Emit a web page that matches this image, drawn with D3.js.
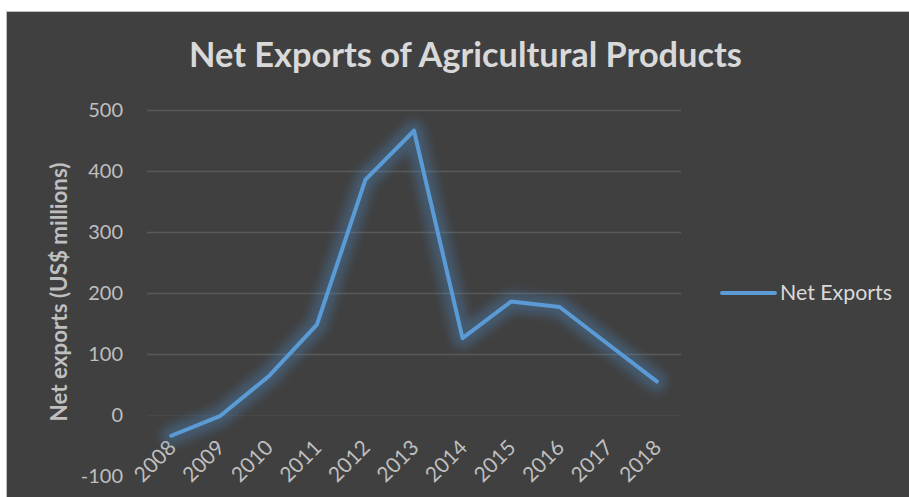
<!DOCTYPE html>
<html>
<head>
<meta charset="utf-8">
<script src="https://cdn.jsdelivr.net/npm/d3@7"></script>
<style>
  html, body { margin: 0; padding: 0; background: #fff; }
  svg text { font-family: Lato, "Open Sans", sans-serif; }
</style>
</head>
<body>
<div id="chart"></div>
<script>
// data
const years = ['2008','2009','2010','2011','2012','2013','2014','2015','2016','2017','2018'];
const netExports = [-34, -2, 63, 148, 386, 466, 126, 186, 177, 116, 55];
const yTicks = [-100, 0, 100, 200, 300, 400, 500];
const gridTicks = [100, 200, 300, 400, 500];
const seriesName = 'Net Exports';

const width = 909, height = 497;
const svg = d3.select('#chart').append('svg').attr('width', width).attr('height', height);

// glow filter for the line
const defs = svg.append('defs');
defs.append('filter').attr('id', 'glow')
  .attr('x', '-20%').attr('y', '-20%').attr('width', '140%').attr('height', '140%')
  .append('feGaussianBlur').attr('stdDeviation', 5);

// chart area
svg.append('rect')
  .attr('x', 6.5).attr('y', 11.5).attr('width', width).attr('height', height)
  .attr('fill', '#404040').attr('stroke', '#bfbfbf').attr('stroke-width', 1);

// fit a text element to a target width
const fit = (sel, target) => {
  const fs = parseFloat(sel.attr('font-size'));
  const w = sel.node().getComputedTextLength();
  sel.attr('font-size', fs * target / w);
};

// title
const title = svg.append('text')
  .attr('x', 465.5).attr('y', 67)
  .attr('text-anchor', 'middle')
  .attr('font-size', 28).attr('font-weight', 'bold')
  .attr('fill', '#d9d9d9')
  .text('Net Exports of Agricultural Products');
fit(title, 553);

// scales
const x = d3.scaleBand().domain(years).range([147, 681]);
const y = d3.scaleLinear().domain([-100, 500]).range([476, 110]);
const cx = d => x(d) + x.bandwidth() / 2;

// gridlines
svg.append('g').selectAll('line').data(gridTicks).enter().append('line')
  .attr('x1', 147).attr('x2', 681)
  .attr('y1', d => y(d) + 0.5).attr('y2', d => y(d) + 0.5)
  .attr('stroke', '#595959').attr('stroke-width', 1.3);
svg.append('line')
  .attr('x1', 147).attr('x2', 681)
  .attr('y1', y(0) + 0.5).attr('y2', y(0) + 0.5)
  .attr('stroke', '#484848').attr('stroke-width', 1);

// y axis labels
const yAxis = svg.append('g')
  .attr('transform', 'translate(123,0)')
  .call(d3.axisLeft(y).tickValues(yTicks).tickSize(0).tickPadding(0).tickFormat(d => String(d)));
yAxis.select('.domain').remove();
yAxis.selectAll('text')
  .attr('fill', '#bfbfbf')
  .attr('font-size', 20)
  .attr('font-family', 'Lato, "Open Sans", sans-serif');

// x axis labels, rotated
const xAxis = svg.append('g')
  .attr('transform', 'translate(0,' + 449 + ')')
  .call(d3.axisBottom(x).tickSize(0).tickPadding(0));
xAxis.select('.domain').remove();
xAxis.selectAll('text')
  .attr('fill', '#bfbfbf')
  .attr('font-size', 21)
  .attr('font-family', 'Lato, "Open Sans", sans-serif')
  .attr('text-anchor', 'end')
  .attr('dy', 0)
  .attr('transform', 'translate(6,0) rotate(-45)');

// y axis title
const yTitle = svg.append('text')
  .attr('transform', 'translate(66.5,292) rotate(-90)')
  .attr('text-anchor', 'middle')
  .attr('font-size', 20).attr('font-weight', 'bold')
  .attr('fill', '#bfbfbf')
  .text('Net exports (US$ millions)');
fit(yTitle, 259);

// line with glow
const line = d3.line().x((d, i) => cx(years[i])).y(d => y(d));
svg.append('path').datum(netExports)
  .attr('d', line)
  .attr('fill', 'none')
  .attr('stroke', '#4f8fcf').attr('stroke-opacity', 0.32)
  .attr('stroke-width', 20).attr('stroke-linejoin', 'round').attr('stroke-linecap', 'round')
  .attr('filter', 'url(#glow)');
svg.append('path').datum(netExports)
  .attr('d', line)
  .attr('fill', 'none')
  .attr('stroke', '#5b9bd5')
  .attr('stroke-width', 4).attr('stroke-linejoin', 'round').attr('stroke-linecap', 'round');

// legend
const legend = svg.append('g');
legend.append('line')
  .attr('x1', 722).attr('x2', 775).attr('y1', 293).attr('y2', 293)
  .attr('stroke', '#5b9bd5').attr('stroke-width', 4).attr('stroke-linecap', 'round');
const legText = legend.append('text')
  .attr('x', 780).attr('y', 293).attr('dy', '0.35em')
  .attr('font-size', 19).attr('fill', '#d9d9d9')
  .text(seriesName);
fit(legText, 112);
</script>
</body>
</html>
